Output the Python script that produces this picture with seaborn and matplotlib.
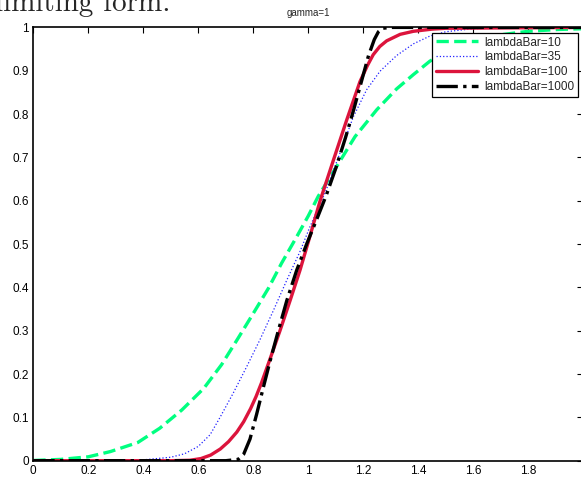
import matplotlib
matplotlib.use("Agg")
import matplotlib.pyplot as plt
import seaborn as sns
import pandas as pd

# ---- data ----
x_l10 = [0, 0.1, 0.2, 0.28, 0.38, 0.46, 0.54, 0.62, 0.685, 0.745, 0.8, 0.855, 0.903,
         0.958, 1.0, 1.036, 1.103, 1.17, 1.249, 1.321, 1.382, 1.442, 1.5, 1.6, 1.7,
         1.8, 1.9, 2.0]
y_l10 = [0.0005, 0.003, 0.009, 0.021, 0.042, 0.075, 0.117, 0.167, 0.222, 0.283, 0.34,
         0.398, 0.456, 0.517, 0.565, 0.61, 0.679, 0.748, 0.81, 0.858, 0.891, 0.922,
         0.944, 0.968, 0.983, 0.991, 0.995, 0.997]

x_l35 = [0, 0.3, 0.4, 0.5, 0.55, 0.6, 0.643, 0.679, 0.727, 0.776, 0.824, 0.874, 0.922,
         0.97, 1.006, 1.061, 1.115, 1.164, 1.212, 1.261, 1.321, 1.382, 1.442, 1.5, 1.6,
         1.8, 2.0]
y_l35 = [0, 0.0003, 0.002, 0.008, 0.016, 0.033, 0.06, 0.1, 0.156, 0.217, 0.279, 0.348,
         0.417, 0.483, 0.54, 0.618, 0.71, 0.794, 0.856, 0.899, 0.935, 0.962, 0.98, 0.99,
         0.997, 1.0, 1.0]

x_l100 = [0, 0.5, 0.57, 0.61, 0.645, 0.68, 0.71, 0.74, 0.765, 0.79, 0.81, 0.83, 0.861,
          0.897, 0.934, 0.97, 1.0, 1.043, 1.092, 1.14, 1.188, 1.215, 1.236, 1.26, 1.285,
          1.334, 1.382, 1.45, 1.5, 2.0]
y_l100 = [0, 0, 0.001, 0.005, 0.013, 0.027, 0.044, 0.066, 0.09, 0.12, 0.148, 0.18,
          0.235, 0.3, 0.37, 0.44, 0.505, 0.6, 0.695, 0.787, 0.875, 0.912, 0.937, 0.956,
          0.969, 0.984, 0.991, 0.996, 0.998, 1.0]

x_l1000 = [0, 0.7, 0.745, 0.765, 0.788, 0.812, 0.836, 0.861, 0.891, 0.922, 0.958, 0.994,
           1.03, 1.065, 1.1, 1.135, 1.165, 1.194, 1.219, 1.24, 1.255, 1.27, 1.3, 2.0]
y_l1000 = [0, 0, 0.003, 0.015, 0.05, 0.107, 0.168, 0.23, 0.3, 0.37, 0.44, 0.5,
           0.556, 0.612, 0.675, 0.745, 0.81, 0.877, 0.935, 0.972, 0.99, 0.998, 1.0, 1.0]

series_labels = ["lambdaBar=10", "lambdaBar=35", "lambdaBar=100", "lambdaBar=1000"]
x_ticks = [0, 0.2, 0.4, 0.6, 0.8, 1, 1.2, 1.4, 1.6, 1.8, 2]
x_tick_labels = ["0", "0.2", "0.4", "0.6", "0.8", "1", "1.2", "1.4", "1.6", "1.8", ""]
y_ticks = [0, 0.1, 0.2, 0.3, 0.4, 0.5, 0.6, 0.7, 0.8, 0.9, 1]
y_tick_labels = ["0", "0.1", "0.2", "0.3", "0.4", "0.5", "0.6", "0.7", "0.8", "0.9", "1"]
title_text = "gamma=1"
caption_text = "limiting form."

# ---- styling ----
sns.set_theme(style="white")
plt.rcParams["font.family"] = ["Liberation Sans", "DejaVu Sans"]
plt.rcParams["xtick.direction"] = "in"
plt.rcParams["ytick.direction"] = "in"

W, H = 581, 478
fig = plt.figure(figsize=(W / 100, H / 100), dpi=100)
fig.patch.set_facecolor("white")
left = 33.3 / W
right = 583.3 / W
bottom = (H - 460.7) / H
top = (H - 27.4) / H
ax = fig.add_axes([left, bottom, right - left, top - bottom])
ax.set_facecolor("white")

styles = [
    dict(color="#00ff80", linestyle="--", linewidth=2.4),
    dict(color="#2020ff", linestyle=":", linewidth=0.9),
    dict(color="#dc143c", linestyle="-", linewidth=2.4),
    dict(color="black", linestyle="-.", linewidth=2.4),
]
data = [(x_l10, y_l10), (x_l35, y_l35), (x_l100, y_l100), (x_l1000, y_l1000)]
for (xs, ys), lab, st in zip(data, series_labels, styles):
    df = pd.DataFrame({"x": xs, "y": ys})
    sns.lineplot(data=df, x="x", y="y", ax=ax, label=lab, sort=False,
                 estimator=None, **st)

ax.set_xlim(0, 2)
ax.set_ylim(0, 1)
ax.set_xticks(x_ticks)
ax.set_xticklabels(x_tick_labels)
ax.set_yticks(y_ticks)
ax.set_yticklabels(y_tick_labels)
ax.set_xlabel("")
ax.set_ylabel("")
ax.tick_params(axis="both", which="both", direction="in", length=4, width=0.8,
               labelsize=8.5, colors="black", top=True, right=True, pad=3)
for sp in ax.spines.values():
    sp.set_visible(True)
    sp.set_color("black")
    sp.set_linewidth(1.2)

ax.set_title(title_text, fontsize=7, pad=8)

leg = ax.legend(loc="upper right", bbox_to_anchor=(578 / W, 1 - 33 / H),
                bbox_transform=fig.transFigure, borderaxespad=0,
                fontsize=8.5, frameon=True, fancybox=False, framealpha=1,
                edgecolor="black", handlelength=3.6, labelspacing=0.25,
                borderpad=0.3, handletextpad=0.5)
leg.get_frame().set_linewidth(0.9)

fig.text(170 / W, 1 - 11 / H, caption_text, ha="right", va="baseline",
         fontsize=21, family="cmr10")

fig.savefig("out.png", dpi=100)
